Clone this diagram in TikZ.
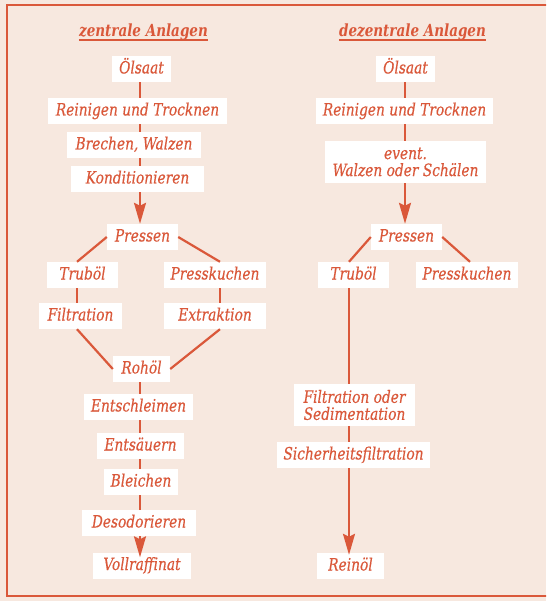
\documentclass[tikz,border=0pt]{standalone}
\usepackage{fontspec}
\newfontfamily\labfont{DejaVu Serif Condensed}[ItalicFont={DejaVu Serif Condensed Italic},BoldItalicFont={DejaVu Serif Condensed Bold Italic},FakeStretch=0.9,ItalicFeatures={FakeBold=0.3}]
\usetikzlibrary{arrows.meta}
\definecolor{bgcol}{RGB}{247,232,223}
\definecolor{redcol}{RGB}{218,88,58}
\tikzset{
  box/.style={fill=white, text=redcol, inner xsep=4pt, inner ysep=0pt,
    minimum height=26pt, text height=12.5pt, text depth=3.5pt,
    font=\labfont\itshape\fontsize{17}{17}\selectfont},
  box2/.style={fill=white, text=redcol, inner xsep=4pt, inner ysep=0pt,
    minimum height=42pt, align=center,
    font=\labfont\itshape\fontsize{17}{17}\selectfont},
  title/.style={text=redcol, inner sep=0pt, anchor=base,
    font=\labfont\bfseries\itshape\fontsize{16.7}{17}\selectfont},
  conn/.style={draw=redcol, line width=2.2pt},
  arr/.style={conn, -{Stealth[length=21pt,width=12pt,inset=3pt]}},
}
\begin{document}
\begin{tikzpicture}[x=1pt,y=-1pt]
\useasboundingbox (0,0) rectangle (546,601);
\clip (0,0) rectangle (546,601);
\fill[bgcol] (0,0) rectangle (546,601);
\draw[redcol, line width=1.8pt] (7,5) rectangle (620,596);

% line positions
\coordinate (L1) at (140,0);
\coordinate (L2) at (405,0);
\coordinate (BL) at (77,0);
\coordinate (BR) at (220,0);
\coordinate (BL2) at (349,0);
\coordinate (BR2) at (470,0);

% titles
\node[title] (t1) at (143.5,37) {zentrale Anlagen};
\node[title] (t2) at (412.5,37) {dezentrale Anlagen};
\draw[redcol, line width=1.4pt] ([yshift=-3pt]t1.base west) -- ([yshift=-3pt]t1.base east);
\draw[redcol, line width=1.4pt] ([yshift=-3pt]t2.base west) -- ([yshift=-3pt]t2.base east);

% left column
\node[box, minimum width=59pt]  (oel1)    at (141.5,69)  {Ölsaat};
\node[box, minimum width=179pt] (rein1)   at (137.5,111) {Reinigen und Trocknen};
\node[box, minimum width=134pt] (brech)   at (134,145)   {Brechen, Walzen};
\node[box, minimum width=133pt] (kond)    at (137.5,179) {Konditionieren};
\node[box, minimum width=71pt]  (press1)  at (142.5,237) {Pressen};
\node[box, minimum width=71pt]  (trub1)   at (82.5,275)  {Truböl};
\node[box, minimum width=102pt] (kuch1)   at (215,275)   {Presskuchen};
\node[box, minimum width=83pt]  (filt1)   at (80.5,316)  {Filtration};
\node[box, minimum width=102pt] (extr)    at (215,316)   {Extraktion};
\node[box, minimum width=57pt]  (roh)     at (141.5,369) {Rohöl};
\node[box, minimum width=109pt] (entschl) at (138.5,407) {Entschleimen};
\node[box, minimum width=87pt]  (entsae)  at (140.5,446) {Entsäuern};
\node[box, minimum width=74pt]  (bleich)  at (141,482)   {Bleichen};
\node[box, minimum width=114pt] (desod)   at (139,523)   {Desodorieren};
\node[box, minimum width=98pt]  (voll)    at (142,565.5) {Vollraffinat};

% right column
\node[box, minimum width=59pt]  (oel2)    at (405.5,69)  {Ölsaat};
\node[box, minimum width=177pt] (rein2)   at (404.5,111) {Reinigen und Trocknen};
\node[box2, minimum width=161pt] (event)  at (405.5,162) {event.\\Walzen oder Schälen};
\node[box, minimum width=71pt]  (press2)  at (406.5,237) {Pressen};
\node[box, minimum width=71pt]  (trub2)   at (353.5,275) {Truböl};
\node[box, minimum width=102pt] (kuch2)   at (467,275)   {Presskuchen};
\node[box2, minimum width=121pt] (filtsed) at (354.5,405) {Filtration oder\\Sedimentation};
\node[box, minimum width=153pt] (sicher)  at (353.5,455) {Sicherheitsfiltration};
\node[box, minimum width=67pt]  (reinoel) at (350.5,566) {Reinöl};

% left connectors
\draw[conn] (oel1.south -| L1) -- (rein1.north -| L1);
\draw[conn] (rein1.south -| L1) -- (brech.north -| L1);
\draw[conn] (brech.south -| L1) -- (kond.north -| L1);
\draw[arr]  (kond.south -| L1) -- (press1.north -| L1);
\draw[conn] (press1.west) -- (trub1.north -| BL);
\draw[conn] (press1.east) -- (kuch1.north -| BR);
\draw[conn] (trub1.south -| BL) -- (filt1.north -| BL);
\draw[conn] (kuch1.south -| BR) -- (extr.north -| BR);
\draw[conn] (filt1.south -| BL) -- (roh.west);
\draw[conn] (extr.south -| BR) -- (roh.east);
\draw[conn] (roh.south -| L1) -- (entschl.north -| L1);
\draw[conn] (entschl.south -| L1) -- (entsae.north -| L1);
\draw[conn] (entsae.south -| L1) -- (bleich.north -| L1);
\draw[conn] (bleich.south -| L1) -- (desod.north -| L1);
\draw[arr, shorten >=-5pt] (desod.south -| L1) -- (voll.north -| L1);

% right connectors
\draw[conn] (oel2.south -| L2) -- (rein2.north -| L2);
\draw[conn] (rein2.south -| L2) -- (event.north -| L2);
\draw[arr]  (event.south -| L2) -- (press2.north -| L2);
\draw[conn] (press2.west) -- (trub2.north -| BL2);
\draw[conn] (press2.east) -- (kuch2.north -| BR2);
\draw[conn] (trub2.south -| BL2) -- (filtsed.north -| BL2);
\draw[conn] (filtsed.south -| BL2) -- (sicher.north -| BL2);
\draw[arr, shorten >=-2pt] (sicher.south -| BL2) -- (reinoel.north -| BL2);
\end{tikzpicture}
\end{document}
